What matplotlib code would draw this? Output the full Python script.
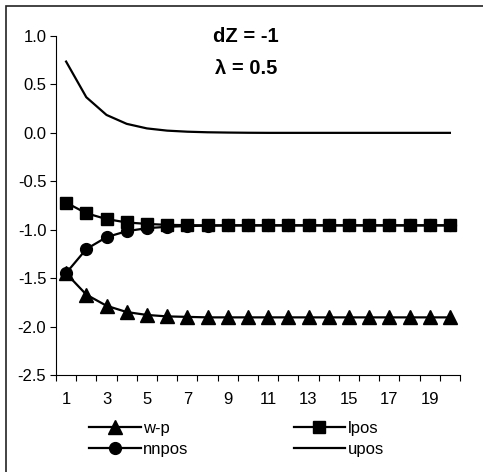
import numpy as np
import matplotlib.pyplot as plt
from matplotlib.patches import Rectangle

plt.rcParams['font.family'] = ['Liberation Sans', 'DejaVu Sans']

# periods 1..20
periods = list(range(1, 21))
wp = [-1.45, -1.67, -1.785, -1.85, -1.88, -1.895, -1.90, -1.905, -1.905, -1.905,
      -1.905, -1.905, -1.905, -1.905, -1.905, -1.905, -1.905, -1.905, -1.905, -1.905]
lpos = [-0.72, -0.83, -0.89, -0.925, -0.94, -0.95, -0.953, -0.955, -0.955, -0.955,
        -0.955, -0.955, -0.955, -0.955, -0.955, -0.955, -0.955, -0.955, -0.955, -0.955]
nnpos = [-1.448, -1.20, -1.077, -1.015, -0.984, -0.97, -0.962, -0.958, -0.956, -0.955,
         -0.955, -0.955, -0.955, -0.955, -0.955, -0.955, -0.955, -0.955, -0.955, -0.955]
upos = [0.736, 0.368, 0.185, 0.093, 0.046, 0.023, 0.012, 0.006, 0.003, 0.001,
        0.0, 0.0, 0.0, 0.0, 0.0, 0.0, 0.0, 0.0, 0.0, 0.0]
xlabels = [str(i) for i in range(1, 20, 2)]

fig = plt.figure(figsize=(4.83, 4.72), dpi=100)
ax = fig.add_axes([56 / 483, 1 - 375 / 472, 404 / 483, 339 / 472])

fig.patches.append(Rectangle((5.5 / 483, -0.1), 1.5, 1 - 6 / 472 + 0.1,
                             transform=fig.transFigure, fill=False,
                             edgecolor='#222222', linewidth=1.2))

lw = 1.6
h1, = ax.plot(periods, wp, color='black', lw=lw, marker='^', markersize=10, label='w-p')
h3, = ax.plot(periods, lpos, color='black', lw=lw, marker='s', markersize=9, label='lpos')
h2, = ax.plot(periods, nnpos, color='black', lw=lw, marker='o', markersize=8.5, label='nnpos')
h4, = ax.plot(periods, upos, color='black', lw=lw, label='upos')

ax.set_xlim(0.5, 20.5)
ax.set_ylim(-2.5, 1.0)
ax.set_yticks(np.arange(-2.5, 1.01, 0.5))
ax.set_yticklabels(['%.1f' % v for v in np.arange(-2.5, 1.01, 0.5)])
ax.set_xticks(np.arange(0.5, 20.6, 1.0))
ax.set_xticklabels([])
ax.set_xticks(range(1, 20, 2), minor=True)
ax.set_xticklabels(xlabels, minor=True)
ax.tick_params(axis='x', which='minor', length=0, pad=12, labelsize=12)
ax.tick_params(axis='x', which='major', length=4, direction='out', width=0.8)
ax.tick_params(axis='y', length=4, direction='out', width=0.8, labelsize=12, pad=3)

for s in ['top', 'right']:
    ax.spines[s].set_visible(False)
for s in ['left', 'bottom']:
    ax.spines[s].set_linewidth(0.8)

ax.text(0.47, 1.0, 'dZ = -1', transform=ax.transAxes, ha='center', va='center',
        fontsize=14.5, fontweight='bold')
ax.text(0.47, 0.905, 'λ = 0.5', transform=ax.transAxes, ha='center', va='center',
        fontsize=14.5, fontweight='bold')

fig.legend(handles=[h1, h2, h3, h4], ncol=2, loc='upper left',
           bbox_to_anchor=(74 / 483, 1 - 406 / 472), frameon=False, fontsize=12,
           handlelength=3.1, handletextpad=0.15, columnspacing=6.3,
           labelspacing=0.35)

fig.savefig('out.png', dpi=100)
